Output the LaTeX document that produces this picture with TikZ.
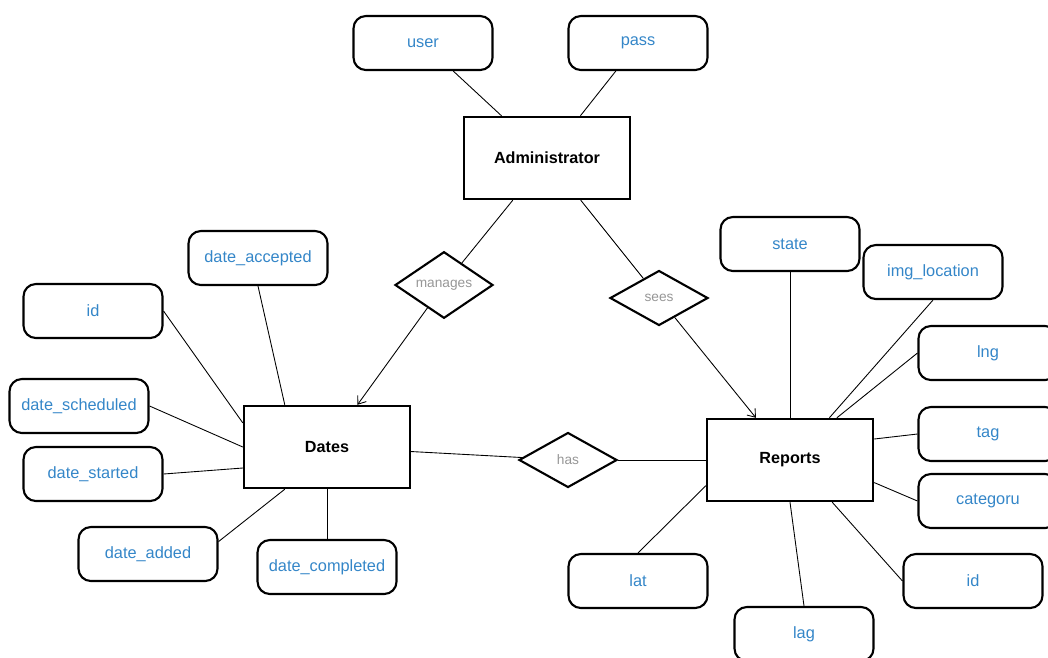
\documentclass[tikz,border=0pt]{standalone}
\usepackage{fontspec}
\setmainfont{Liberation Sans}
\usepackage{xcolor}
\usetikzlibrary{arrows.meta,shapes.geometric}

\definecolor{attrblue}{RGB}{52,134,200}
\definecolor{relgray}{RGB}{150,150,150}

\begin{document}
\begin{tikzpicture}[
    x=0.02cm, y=-0.02cm,
    >={Straight Barb[length=4pt,width=6pt]},
    entity/.style={draw, line width=1.4pt, minimum width=3.32cm, minimum height=1.64cm, font=\fontsize{9.2}{11}\selectfont\bfseries},
    attr/.style={draw, line width=1.2pt, rounded corners=7pt, minimum width=2.78cm, minimum height=1.08cm, text=attrblue, font=\fontsize{9.3}{11}\selectfont},
    rel/.style={draw, diamond, line width=1.2pt, minimum width=1.96cm, minimum height=1.1cm, inner sep=0pt, text=relgray, font=\fontsize{7.8}{9}\selectfont},
    link/.style={line width=0.5pt}
]
\useasboundingbox (0,0) rectangle (1048,657);
\clip (0,0) rectangle (1048,657);

% entities
\node[entity] (admin) at (547,158) {Administrator};
\node[entity] (dates) at (327,447) {Dates};
\node[entity] (reports) at (790,460) {Reports};

% relations
\node[rel] (manages) at (444,285) {manages};
\node[rel] (sees) at (659,298) {sees};
\node[rel] (has) at (568,460) {has};

% administrator attributes
\node[attr] (user) at (423,43) {user};
\node[attr] (pass) at (638,43) {pass};

% dates attributes
\node[attr] (daccepted) at (258,258) {date\_accepted};
\node[attr] (did) at (93,311) {id};
\node[attr] (dscheduled) at (79,406) {date\_scheduled};
\node[attr] (dstarted) at (93,474) {date\_started};
\node[attr] (dadded) at (148,554) {date\_added};
\node[attr] (dcompleted) at (327,567) {date\_completed};

% reports attributes
\node[attr] (state) at (790,244) {state};
\node[attr] (imgloc) at (933,272) {img\_location};
\node[attr] (lng) at (988,353) {lng};
\node[attr] (tag) at (988,434) {tag};
\node[attr] (categoru) at (988,501) {categoru};
\node[attr] (rid) at (973,581) {id};
\node[attr] (lat) at (638,581) {lat};
\node[attr] (lag) at (804,634) {lag};

% relationships
\draw[link] (admin) -- (manages);
\draw[link, ->] (manages) -- (dates);
\draw[link] (admin) -- (sees);
\draw[link, ->] (sees) -- (reports);
\draw[link] (dates) -- (has);
\draw[link] (has) -- (reports);

% attribute links
\draw[link] (user) -- (admin);
\draw[link] (pass) -- (admin);

\draw[link] (daccepted.south) -- (dates.135);
\draw[link] (did.east) -- (dates.164);
\draw[link] (dscheduled.east) -- (dates.west);
\draw[link] (dstarted.east) -- (dates.194);
\draw[link] (dadded.10) -- (dates.-135);
\draw[link] (dcompleted) -- (dates);

\draw[link] (state) -- (reports);
\draw[link] (imgloc.south) -- (reports.47);
\draw[link] (lng.west) -- (reports.42);
\draw[link] (tag.west) -- (reports.14);
\draw[link] (categoru.west) -- (reports.-15);
\draw[link] (rid.west) -- (reports.-45);
\draw[link] (lag.north) -- (reports.south);
\draw[link] (lat.north) -- (reports.197);
\end{tikzpicture}
\end{document}
